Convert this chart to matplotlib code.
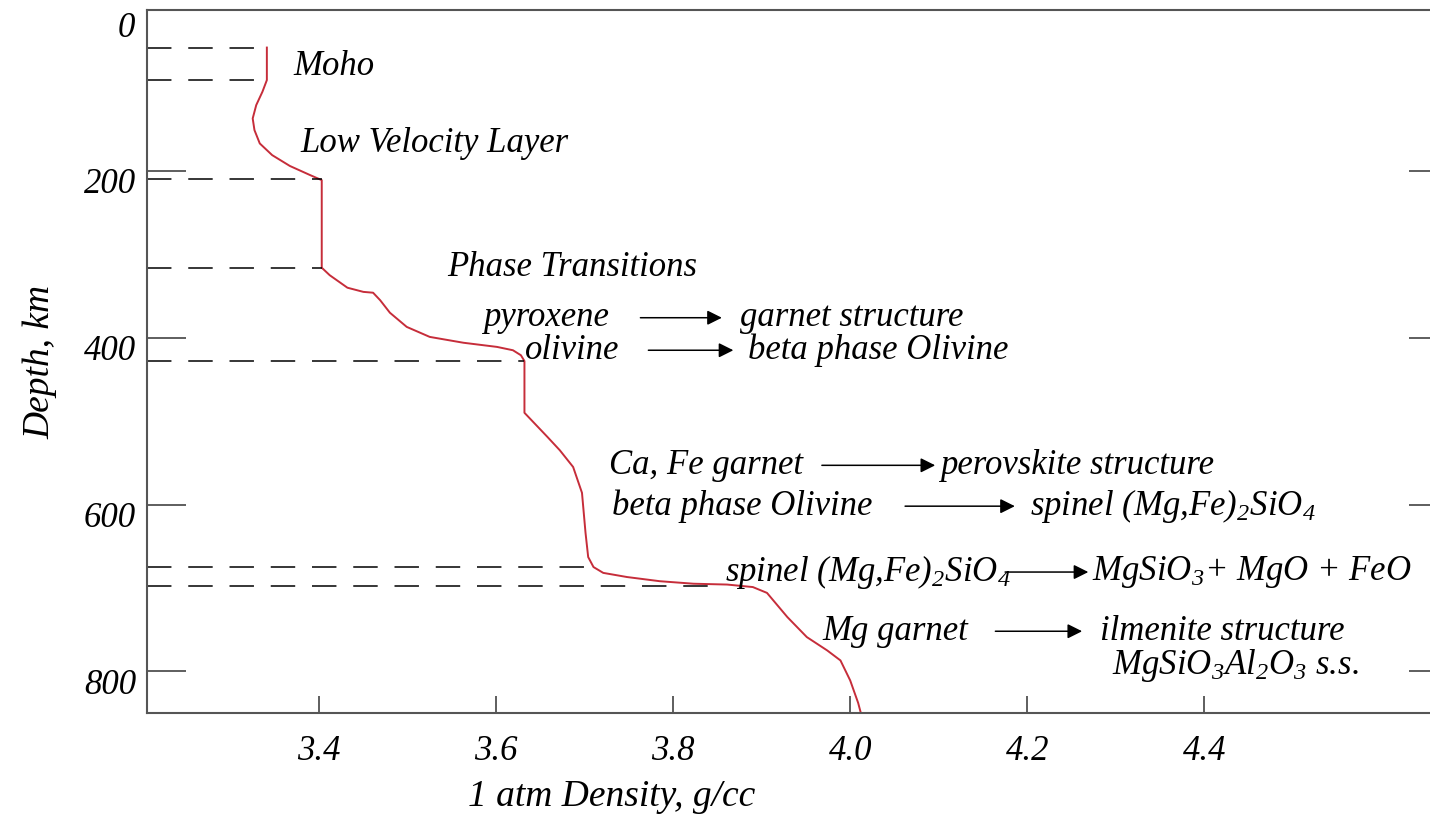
import matplotlib
matplotlib.use("Agg")
import matplotlib.pyplot as plt
from matplotlib.transforms import ScaledTranslation

plt.rcParams['font.family'] = ['Liberation Serif', 'DejaVu Serif']
plt.rcParams['font.style'] = 'italic'
plt.rcParams['mathtext.fontset'] = 'custom'
plt.rcParams['mathtext.rm'] = 'Liberation Serif:italic'
plt.rcParams['mathtext.it'] = 'Liberation Serif:italic'

# density profile (g/cc) vs depth (km)
density = [3.341, 3.341, 3.336, 3.329, 3.325, 3.327, 3.333, 3.347, 3.367, 3.390,
           3.403, 3.403, 3.412, 3.432, 3.450, 3.461, 3.469, 3.480, 3.499, 3.525,
           3.563, 3.601, 3.619, 3.628, 3.632, 3.632, 3.658, 3.672, 3.687, 3.697,
           3.701, 3.704, 3.710, 3.721, 3.748, 3.785, 3.823, 3.861, 3.890, 3.906,
           3.929, 3.951, 3.974, 3.989, 4.000, 4.009, 4.012]
depth = [52, 91, 105, 121, 137, 151, 167, 181, 194, 205,
         211, 316, 325, 340, 345, 346, 355, 370, 387, 399,
         406, 411, 415, 421, 428, 490, 519, 535, 555, 586,
         634, 663, 675, 682, 687, 692, 695, 696, 699, 706,
         735, 759, 775, 787, 811, 838, 850]

# dashed boundary lines: depth and the density where they stop
dash_depth = [52, 91, 210, 316, 428, 675, 698]
dash_end = [3.341, 3.341, 3.403, 3.403, 3.632, 3.708, 3.855]

x_ticks = [3.4, 3.6, 3.8, 4.0, 4.2, 4.4]
x_labels = ['3.4', '3.6', '3.8', '4.0', '4.2', '4.4']
y_ticks = [200, 400, 600, 800]
y_labels = ['200', '400', '600', '800']

# annotations: (text, density, depth)
labels = [
    ('Moho', 3.371, 75),
    ('Low Velocity Layer', 3.379, 167),
    ('Phase Transitions', 3.545, 316),
    ('pyroxene', 3.585, 376),
    ('garnet structure', 3.876, 376),
    ('olivine', 3.633, 415),
    ('beta phase Olivine', 3.885, 415),
    ('Ca, Fe garnet', 3.727, 553),
    ('perovskite structure', 4.102, 553),
    ('beta phase Olivine', 3.731, 602),
    ('spinel (Mg,Fe)$_2$SiO$_4$', 4.203, 602),
    ('spinel (Mg,Fe)$_2$SiO$_4$', 3.859, 681),
    ('MgSiO$_3$+ MgO + FeO', 4.273, 681),
    ('Mg garnet', 3.969, 752),
    ('ilmenite structure', 4.282, 752),
    ('MgSiO$_3$Al$_2$O$_3$ s.s.', 4.296, 793),
]

# arrows: (start density, end density, depth)
arrows = [
    (3.763, 3.855, 376),
    (3.772, 3.868, 415),
    (3.968, 4.096, 553),
    (4.062, 4.186, 602),
    (4.175, 4.269, 681),
    (4.164, 4.262, 752),
]

fig = plt.figure(figsize=(14.3, 8.23), dpi=100)
ax = fig.add_axes([0.1028, 0.1337, 0.8972, 0.8541])

ax.plot(density, depth, color='#c62d3a', lw=1.4)

for d, e in zip(dash_depth, dash_end):
    ax.plot([3.2056, e], [d, d], color='black', lw=1.1, dashes=(16, 11))

for txt, x, y in labels:
    ax.text(x, y, txt, fontsize=25, ha='left', va='center')

for x0, x1, y in arrows:
    ax.annotate('', xy=(x1, y), xytext=(x0, y),
                arrowprops=dict(arrowstyle='-|>', color='black', lw=1.1,
                                mutation_scale=22, shrinkA=0, shrinkB=0))

ax.set_xlim(3.2056, 4.655)
ax.set_ylim(850, 7)

for s in ['left', 'bottom', 'top']:
    ax.spines[s].set_color('#555555')
    ax.spines[s].set_linewidth(1.5)
ax.spines['right'].set_visible(False)

ax.set_xticks(x_ticks)
ax.set_xticklabels(x_labels, fontsize=25)
ax.set_yticks(y_ticks)
ax.set_yticklabels(y_labels, fontsize=25)
ax.tick_params(axis='x', direction='in', length=12, width=1.1, color='#333333', pad=16)
ax.tick_params(axis='y', direction='in', length=28, width=1.1, color='#333333', pad=8)

shift = ScaledTranslation(0, -0.1, fig.dpi_scale_trans)
for lab in ax.get_yticklabels():
    lab.set_transform(lab.get_transform() + shift)
ax.text(-0.009, 0, '0', fontsize=25, ha='right', va='center',
        transform=ax.get_yaxis_transform() + ScaledTranslation(0, -0.24, fig.dpi_scale_trans))

ax2 = ax.twinx()
ax2.set_ylim(850, 7)
ax2.set_yticks(y_ticks)
ax2.set_yticklabels([])
ax2.tick_params(axis='y', direction='in', length=15, width=1.1, color='#333333')
for s in ax2.spines.values():
    s.set_visible(False)

ax.set_xlabel('1 atm Density, g/cc', fontsize=27)
ax.xaxis.set_label_coords(0.362, -0.095)
ax.set_ylabel('Depth, km', fontsize=27)
ax.yaxis.set_label_coords(-0.07, 0.5)

fig.savefig('out.png', dpi=100)
